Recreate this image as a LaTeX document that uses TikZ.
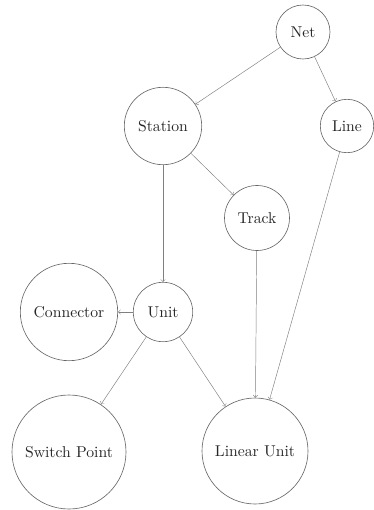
\documentclass[tikz,border=0pt]{standalone}
\begin{document}
\begin{tikzpicture}[x=0.637pt,y=-0.637pt,
  nd/.style={circle,draw=black!60,line width=0.4pt,inner sep=0pt,font=\normalsize,text=black!85},
  ar/.style={->,draw=black!50,line width=0.3pt,>=to}]
\useasboundingbox (0,0) rectangle (373,510);
\node[nd,minimum size={2*27*0.637pt}] (net) at (303,32) {Net};
\node[nd,minimum size={2*38.7*0.637pt}] (station) at (163,126) {Station};
\node[nd,minimum size={2*26.7*0.637pt}] (line) at (347,126) {Line};
\node[nd,minimum size={2*32.5*0.637pt}] (track) at (257,218) {Track};
\node[nd,minimum size={2*29.7*0.637pt}] (unit) at (163,312) {Unit};
\node[nd,minimum size={2*48.7*0.637pt}] (conn) at (69,312) {Connector};
\node[nd,minimum size={2*57*0.637pt}] (switch) at (69,452) {Switch Point};
\node[nd,minimum size={2*53*0.637pt}] (linear) at (255,451) {Linear Unit};
\draw[ar] (net) -- (station);
\draw[ar] (net) -- (line);
\draw[ar] (station) -- (track);
\draw[ar] (station) -- (unit);
\draw[ar] (track) -- (linear);
\draw[ar] (line) -- (linear);
\draw[ar] (unit) -- (conn);
\draw[ar] (unit) -- (switch);
\draw[ar] (unit) -- (linear);
\end{tikzpicture}
\end{document}
